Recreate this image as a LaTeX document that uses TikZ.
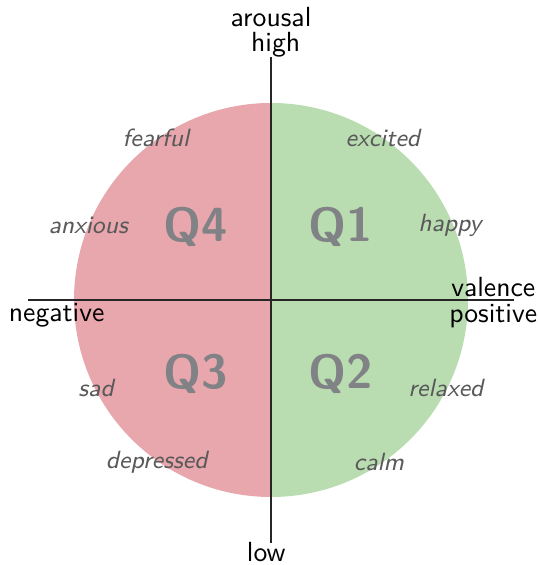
\documentclass[tikz,border=0pt]{standalone}
\usepackage{tikz}
\usetikzlibrary{positioning}

\definecolor{negred}{HTML}{E8A6AD}
\definecolor{posgreen}{HTML}{B9DCB1}
\definecolor{quadgray}{HTML}{808285}

\begin{document}
\begin{tikzpicture}[
		font=\sffamily,
		axis/.style={
			draw=black!85,
			line width=0.6pt
		},
		quadrant/.style={
			text=quadgray,
			font=\sffamily\bfseries\LARGE
		},
		emotion/.style={
			text=black!65,
			font=\sffamily\itshape\small
		},
		axislabel/.style={
			text=black,
			inner sep=1pt
		}
		]
		
		\useasboundingbox (-3.439,-3.363) rectangle (3.388,3.807);
		
		% Halves of the circle
		\fill[negred] (0,2.5) arc (90:270:2.5) -- cycle;
		\fill[posgreen] (0,-2.5) arc (-90:90:2.5) -- cycle;
		
		% Axes
		\coordinate (west) at (-3.08,0);
		\coordinate (east) at (3.08,0);
		\coordinate (north) at (0,3.08);
		\coordinate (south) at (0,-3.08);
		\draw[axis] (west) -- (east);
		\draw[axis] (south) -- (north);
		
		% Axis labels
		\node[axislabel] (arousal) at (0,3.59) {arousal};
		\node[axislabel] (high) at (0.06,3.24) {high};
		\node[axislabel] (low) at (-0.06,-3.2) {low};
		\node[axislabel] (valence) at (2.82,0.17) {valence};
		\node[axislabel] (positive) at (2.82,-0.2) {positive};
		\node[axislabel] (negative) at (-2.72,-0.2) {negative};
		
		% Quadrants
		\node[quadrant] (q1) at (0.89,0.93) {Q1};
		\node[quadrant] (q2) at (0.89,-0.94) {Q2};
		\node[quadrant] (q3) at (-0.95,-0.94) {Q3};
		\node[quadrant] (q4) at (-0.95,0.93) {Q4};
		
		% Emotions
		\node[emotion] (excited) at (1.42,2.06) {excited};
		\node[emotion] (happy) at (2.27,0.95) {happy};
		\node[emotion] (relaxed) at (2.22,-1.12) {relaxed};
		\node[emotion] (calm) at (1.37,-2.06) {calm};
		\node[emotion] (fearful) at (-1.46,2.06) {fearful};
		\node[emotion] (anxious) at (-2.32,0.95) {anxious};
		\node[emotion] (sad) at (-2.22,-1.12) {sad};
		\node[emotion] (depressed) at (-1.45,-2.06) {depressed};
		
	\end{tikzpicture}
\end{document}
